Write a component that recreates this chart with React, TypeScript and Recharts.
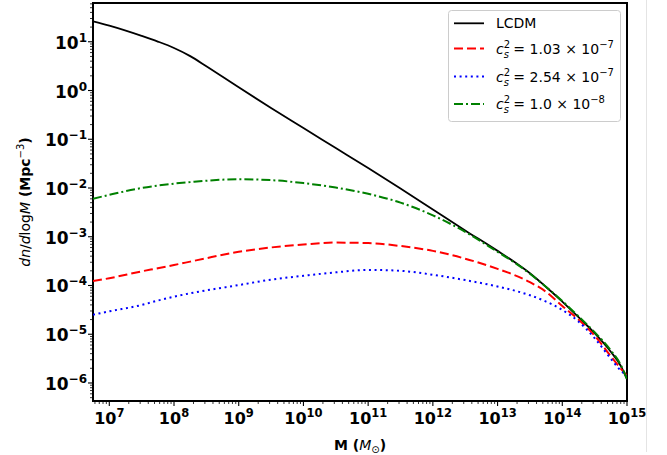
import React from "react";
import {
  LineChart,
  Line,
  XAxis,
  YAxis,
  ReferenceArea,
  Legend,
} from "recharts";

// halo mass (M_sun) and dn/dlogM (Mpc^-3)
const MASS = [
  5.6e6, 1e7, 3.16e7, 5.62e7, 1e8, 1.78e8, 3.16e8, 1e9, 3.16e9, 1e10, 3.16e10,
  1e11, 3.16e11, 1e12, 3.16e12, 1e13, 1.78e13, 3.16e13, 5.62e13, 1e14,
  1.78e14, 3.16e14, 5.62e14, 7.94e14, 1e15,
];
const LCDM = [
  26.3, 21.4, 13.2, 10.1, 7.46, 5.08, 3.14, 1.16, 0.437, 0.17, 0.0661, 0.0257,
  0.00977, 0.00363, 0.00135, 5.13e-4, 3.09e-4, 1.78e-4, 9.33e-5, 4.68e-5,
  2.24e-5, 1.05e-5, 4.37e-6, 2.29e-6, 1.2e-6,
];
const CS_103E7 = [
  1.23e-4, 1.41e-4, 1.95e-4, 2.26e-4, 2.63e-4, 3.09e-4, 3.63e-4, 4.9e-4,
  6.03e-4, 6.92e-4, 7.59e-4, 7.41e-4, 6.46e-4, 5.13e-4, 3.55e-4, 2.19e-4,
  1.66e-4, 1.17e-4, 7.41e-5, 3.8e-5, 2.0e-5, 9.33e-6, 3.55e-6, 2.0e-6, 1.41e-6,
];
const CS_254E7 = [
  2.51e-5, 2.95e-5, 3.98e-5, 4.9e-5, 5.89e-5, 6.92e-5, 7.94e-5, 1.02e-4,
  1.32e-4, 1.58e-4, 1.86e-4, 2.09e-4, 2.0e-4, 1.66e-4, 1.29e-4, 9.55e-5,
  7.94e-5, 6.31e-5, 4.68e-5, 3.16e-5, 1.82e-5, 8.32e-6, 3.16e-6, 1.82e-6,
  1.41e-6,
];
const CS_1E8 = [
  6.03e-3, 7.24e-3, 1.0e-2, 1.12e-2, 1.23e-2, 1.32e-2, 1.41e-2, 1.51e-2,
  1.45e-2, 1.26e-2, 1.02e-2, 7.59e-3, 5.01e-3, 2.75e-3, 1.26e-3, 4.9e-4,
  3.02e-4, 1.74e-4, 9.33e-5, 4.79e-5, 2.34e-5, 1.1e-5, 4.68e-6, 2.4e-6, 1.2e-6,
];

const X_DOMAIN = [5.6e6, 1e15];
const Y_DOMAIN = [4.27e-7, 62.4];
const X_DECADES = [6, 7, 8, 9, 10, 11, 12, 13, 14, 15];
const Y_DECADES = [-7, -6, -5, -4, -3, -2, -1, 0, 1];

const FONT = "DejaVu Sans";

type Series = {
  key: string;
  color: string;
  dash?: string;
  width: number;
  mant?: string;
  exp?: string;
  label?: string;
};

const SERIES: Series[] = [
  { key: "lcdm", color: "#000000", width: 1.8, label: "LCDM" },
  { key: "cs1", color: "#ff0000", dash: "9 4", width: 2, mant: "1.03", exp: "7" },
  { key: "cs2", color: "#0000ff", dash: "2 3.6", width: 2, mant: "2.54", exp: "7" },
  { key: "cs3", color: "#008000", dash: "9 3 2 3", width: 2, mant: "1.0", exp: "8" },
];

const data = MASS.map((m, i) => ({
  m,
  lcdm: LCDM[i],
  cs1: CS_103E7[i],
  cs2: CS_254E7[i],
  cs3: CS_1E8[i],
}));

function buildTicks(decades: number[], lo: number, hi: number) {
  const out: number[] = [];
  decades.forEach((d) => {
    for (let k = 1; k <= 9; k++) {
      const v = k * Math.pow(10, d);
      if (v >= lo && v <= hi) out.push(v);
    }
  });
  return out;
}

const X_TICKS = buildTicks(X_DECADES, X_DOMAIN[0], X_DOMAIN[1]);
const Y_TICKS = buildTicks(Y_DECADES, Y_DOMAIN[0], Y_DOMAIN[1]);

const expOf = (v: number) => Math.round(Math.log10(v));
const isMajor = (v: number) => Math.abs(Math.log10(v) - expOf(v)) < 1e-6;
const supText = (n: number) => (n < 0 ? "\u2212" + Math.abs(n) : String(n));

function XTick(props: any) {
  const { x, y, payload } = props;
  const major = isMajor(payload.value);
  return (
    <g>
      <line
        x1={x}
        x2={x}
        y1={y}
        y2={y + (major ? 5 : 3)}
        stroke="#000"
        strokeWidth={major ? 1.1 : 0.8}
      />
      {major && (
        <text
          x={x}
          y={y + 23}
          textAnchor="middle"
          fontFamily={FONT}
          fontWeight="bold"
          fontSize={16}
          fill="#000"
        >
          <tspan>10</tspan>
          <tspan dy={-7} fontSize={11.5}>
            {supText(expOf(payload.value))}
          </tspan>
        </text>
      )}
    </g>
  );
}

function YTick(props: any) {
  const { x, y, payload } = props;
  const major = isMajor(payload.value);
  return (
    <g>
      <line
        x1={x}
        x2={x - (major ? 5 : 3)}
        y1={y}
        y2={y}
        stroke="#000"
        strokeWidth={major ? 1.1 : 0.8}
      />
      {major && (
        <text
          x={x - 6}
          y={y + 7}
          textAnchor="end"
          fontFamily={FONT}
          fontWeight="bold"
          fontSize={17}
          fill="#000"
        >
          <tspan>10</tspan>
          <tspan dy={-7} fontSize={12}>
            {supText(expOf(payload.value))}
          </tspan>
        </text>
      )}
    </g>
  );
}

function XTitle(props: any) {
  const vb = props.viewBox;
  return (
    <text
      x={vb.x + vb.width / 2}
      y={vb.y + 49}
      textAnchor="middle"
      fontFamily={FONT}
      fontSize={14}
      fill="#000"
    >
      <tspan fontWeight="bold">M (</tspan>
      <tspan fontStyle="italic">M</tspan>
      <tspan fontSize={10} dy={3}>
        ⊙
      </tspan>
      <tspan fontWeight="bold" dy={-3}>
        )
      </tspan>
    </text>
  );
}

function YTitle(props: any) {
  const vb = props.viewBox;
  const cy = vb.y + vb.height / 2;
  return (
    <text
      transform={`translate(30, ${cy}) rotate(-90)`}
      textAnchor="middle"
      fontFamily={FONT}
      fontSize={14}
      fill="#000"
    >
      <tspan fontStyle="italic">dn</tspan>
      <tspan>/</tspan>
      <tspan fontStyle="italic">d</tspan>
      <tspan>log</tspan>
      <tspan fontStyle="italic">M</tspan>
      <tspan fontWeight="bold"> (Mpc</tspan>
      <tspan fontSize={10} dy={-6}>
        {"\u22123"}
      </tspan>
      <tspan fontWeight="bold" dy={6}>
        )
      </tspan>
    </text>
  );
}

const ROW_Y = [13.3, 38.5, 66.5, 94];

function LegendBox() {
  return (
    <svg width={173} height={112} style={{ display: "block" }}>
      <rect
        x={0.5}
        y={0.5}
        width={172}
        height={111}
        rx={3}
        fill="rgba(255,255,255,0.8)"
        stroke="#cccccc"
      />
      {SERIES.map((s, i) => {
        const ly = ROW_Y[i];
        const by = ly + 5;
        return (
          <g key={s.key}>
            <line
              x1={6}
              x2={36}
              y1={ly}
              y2={ly}
              stroke={s.color}
              strokeWidth={s.width}
              strokeDasharray={s.dash}
            />
            {s.label ? (
              <text x={48} y={by} fontFamily={FONT} fontSize={14} fill="#000">
                {s.label}
              </text>
            ) : (
              <text x={48} y={by} fontFamily={FONT} fontSize={14} fill="#000">
                <tspan fontStyle="italic">c</tspan>
                <tspan fontSize={10} dy={-6}>
                  2
                </tspan>
                <tspan fontSize={10} fontStyle="italic" dx={-6.4} dy={10}>
                  s
                </tspan>
                <tspan dy={-4}>{` = ${s.mant} × 10`}</tspan>
                <tspan fontSize={10} dy={-6}>
                  {"\u2212" + s.exp}
                </tspan>
              </text>
            )}
          </g>
        );
      })}
    </svg>
  );
}

export default function App() {
  return (
    <div
      style={{
        position: "absolute",
        left: 0,
        top: 0,
        width: 667,
        height: 455,
        background: "#fff",
      }}
    >
      <LineChart
        width={667}
        height={455}
        data={data}
        margin={{ top: 3, right: 40, bottom: 0, left: 0 }}
      >
        <XAxis
          dataKey="m"
          type="number"
          scale="log"
          domain={X_DOMAIN}
          allowDataOverflow
          ticks={X_TICKS}
          interval={0}
          tickLine={false}
          axisLine={false}
          tickSize={0}
          tickMargin={0}
          tick={(p: any) => <XTick {...p} />}
          height={54}
          label={{ content: (p: any) => <XTitle {...p} /> }}
        />
        <YAxis
          type="number"
          scale="log"
          domain={Y_DOMAIN}
          allowDataOverflow
          ticks={Y_TICKS}
          interval={0}
          tickLine={false}
          axisLine={false}
          tickSize={0}
          tickMargin={0}
          tick={(p: any) => <YTick {...p} />}
          width={93}
          label={{ content: (p: any) => <YTitle {...p} /> }}
        />
        {SERIES.map((s) => (
          <Line
            key={s.key}
            dataKey={s.key}
            type="monotone"
            stroke={s.color}
            strokeWidth={s.width}
            strokeDasharray={s.dash}
            dot={false}
            activeDot={false}
            isAnimationActive={false}
          />
        ))}
        <ReferenceArea
          x1={X_DOMAIN[0]}
          x2={X_DOMAIN[1]}
          y1={Y_DOMAIN[0]}
          y2={Y_DOMAIN[1]}
          fill="none"
          fillOpacity={0}
          stroke="#000"
          strokeWidth={2}
          ifOverflow="visible"
        />
        <Legend
          content={() => <LegendBox />}
          layout="vertical"
          align="center"
          verticalAlign="middle"
          wrapperStyle={{
            position: "absolute",
            left: 448,
            top: 10,
            width: 173,
            height: 112,
            margin: 0,
            padding: 0,
          }}
        />
      </LineChart>
      <div
        style={{
          position: "absolute",
          left: 646,
          top: 0,
          width: 1,
          height: 452,
          background: "#e4e4e4",
        }}
      />
    </div>
  );
}
